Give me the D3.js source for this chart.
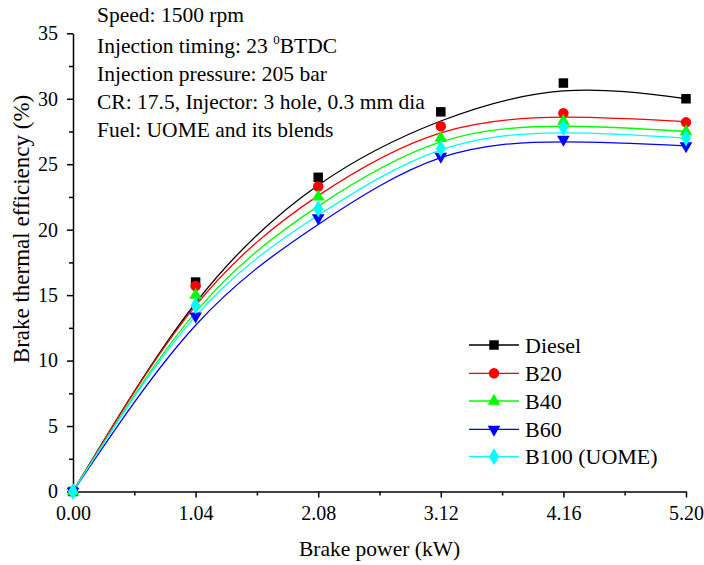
<!DOCTYPE html>
<html><head><meta charset="utf-8">
<script src="https://cdn.jsdelivr.net/npm/d3@7"></script>
<style>body{margin:0;background:#fff}svg{display:block}text{font-family:"Liberation Serif","Times New Roman",serif;fill:#000}</style>
</head><body><svg id="c" width="704" height="565" font-family="Liberation Serif, Times New Roman, serif"></svg>
<script>
const power = [0, 1.04, 2.08, 3.12, 4.16, 5.20];
// measured points
const diesel = [0, 16.0, 24.0, 29.0, 31.2, 30.0];
const b20 = [0, 15.7, 23.3, 27.9, 28.9, 28.2];
const b40 = [0, 15.0, 22.5, 27.0, 28.3, 27.5];
const b60 = [0, 13.4, 20.9, 25.6, 26.9, 26.4];
const b100 = [0, 14.2, 21.6, 26.2, 27.8, 27.0];
// fitted trend lines at the same powers
const dieselFit = [0, 14.4, 23.4, 28.3, 30.6, 30.0];
const b20Fit = [0, 14.2, 22.6, 27.4, 28.6, 28.25];
const b40Fit = [0, 13.7, 21.8, 26.7, 27.9, 27.5];
const b60Fit = [0, 12.7, 20.4, 25.5, 26.7, 26.4];
const b100Fit = [0, 13.4, 21.1, 26.1, 27.4, 27.0];
const seriesNames = ["Diesel", "B20", "B40", "B60", "B100 (UOME)"];
const xTicks = [0, 1.04, 2.08, 3.12, 4.16, 5.20];
const yTicks = [0, 5, 10, 15, 20, 25, 30, 35];
const notes = ["Speed: 1500 rpm", "Injection timing: 23 |0|BTDC", "Injection pressure: 205 bar", "CR: 17.5, Injector: 3 hole, 0.3 mm dia", "Fuel: UOME and its blends"];

const FONT = "Liberation Serif, Times New Roman, serif";
const colors = ["#000000", "#ff0000", "#00ff00", "#0000ff", "#00ffff"];
const symbols = [d3.symbolSquare, d3.symbolCircle, d3.symbolTriangle, "down", d3.symbolDiamond];
const data = [diesel, b20, b40, b60, b100];
const fits = [dieselFit, b20Fit, b40Fit, b60Fit, b100Fit];

const svg = d3.select("#c");
const L = 73, R = 686, T = 33.3, B = 491.5;
const x = d3.scaleLinear().domain([0, 5.2]).range([L, R]);
const y = d3.scaleLinear().domain([0, 35]).range([B, T]);

// axes
const xAxis = d3.axisBottom(x).tickValues(xTicks).tickFormat(d3.format(".2f")).tickSize(6).tickSizeOuter(0);
const gx = svg.append("g").attr("transform", `translate(0,${B})`).call(xAxis);
gx.selectAll("text").attr("font-size", 20).attr("dy", "0.95em");
const xMinor = d3.axisBottom(x).tickValues(xTicks.slice(0, -1).map((v, i) => (v + xTicks[i + 1]) / 2)).tickFormat("").tickSize(4).tickSizeOuter(0);
svg.append("g").attr("transform", `translate(0,${B})`).call(xMinor).select(".domain").remove();

const yAxis = d3.axisLeft(y).tickValues(yTicks).tickFormat(d3.format("d")).tickSize(6).tickSizeOuter(0);
const gy = svg.append("g").attr("transform", `translate(${L},0)`).call(yAxis);
gy.selectAll("text").attr("font-size", 20).attr("dx", "-0.3em");
const yMinor = d3.axisLeft(y).tickValues(yTicks.slice(0, -1).map(v => v + 2.5)).tickFormat("").tickSize(4).tickSizeOuter(0);
svg.append("g").attr("transform", `translate(${L},0)`).call(yMinor).select(".domain").remove();
svg.selectAll("g").attr("font-family", FONT);
svg.selectAll(".domain, .tick line").attr("stroke", "#000").attr("stroke-width", 1.5);

// axis titles
svg.append("text").attr("x", (L + R) / 2).attr("y", 556).attr("text-anchor", "middle").attr("font-size", 21.5).text("Brake power (kW)");
svg.append("text").attr("transform", "translate(29,229) rotate(-90)").attr("text-anchor", "middle").attr("font-size", 23).text("Brake thermal efficiency (%)");

// fitted lines
fits.forEach((ys, k) => {
  svg.append("path").datum(ys).attr("fill", "none").attr("stroke", colors[k]).attr("stroke-width", 1.3)
    .attr("d", d3.line().x((v, i) => x(power[i])).y(v => y(v)).curve(d3.curveNatural));
});

function marker(g, k, cx, cy) {
  if (symbols[k] === "down") {
    g.append("path").attr("d", d3.symbol().type(d3.symbolTriangle).size(70)()).attr("transform", `translate(${cx},${cy}) rotate(180)`).attr("fill", colors[k]);
  } else {
    const size = [90, 85, 70, 0, 85][k];
    g.append("path").attr("d", d3.symbol().type(symbols[k]).size(size)()).attr("transform", `translate(${cx},${cy})`).attr("fill", colors[k]);
  }
}
const mg = svg.append("g");
data.forEach((ys, k) => ys.forEach((v, i) => marker(mg, k, x(power[i]), y(v))));

// legend
const legY = [345, 373.3, 401, 429.3, 456.7];
seriesNames.forEach((n, k) => {
  svg.append("line").attr("x1", 469).attr("x2", 519).attr("y1", legY[k]).attr("y2", legY[k]).attr("stroke", colors[k]).attr("stroke-width", 1.3);
  marker(svg, k, 494, legY[k]);
  svg.append("text").attr("x", 525).attr("y", legY[k]).attr("dy", "0.35em").attr("font-size", 22).text(n);
});

// notes
const noteY = [22, 53, 81, 109, 137];
notes.forEach((t, i) => {
  const tx = svg.append("text").attr("x", 97).attr("y", noteY[i]).attr("font-size", 21.5);
  const parts = t.split("|");
  parts.forEach((p, j) => {
    const s = tx.append("tspan").text(p);
    if (j % 2 === 1) s.attr("font-size", 13).attr("dy", -9);
    else if (j > 0) s.attr("dy", 9);
  });
});
svg.selectAll("text").attr("font-family", FONT);
</script></body></html>
